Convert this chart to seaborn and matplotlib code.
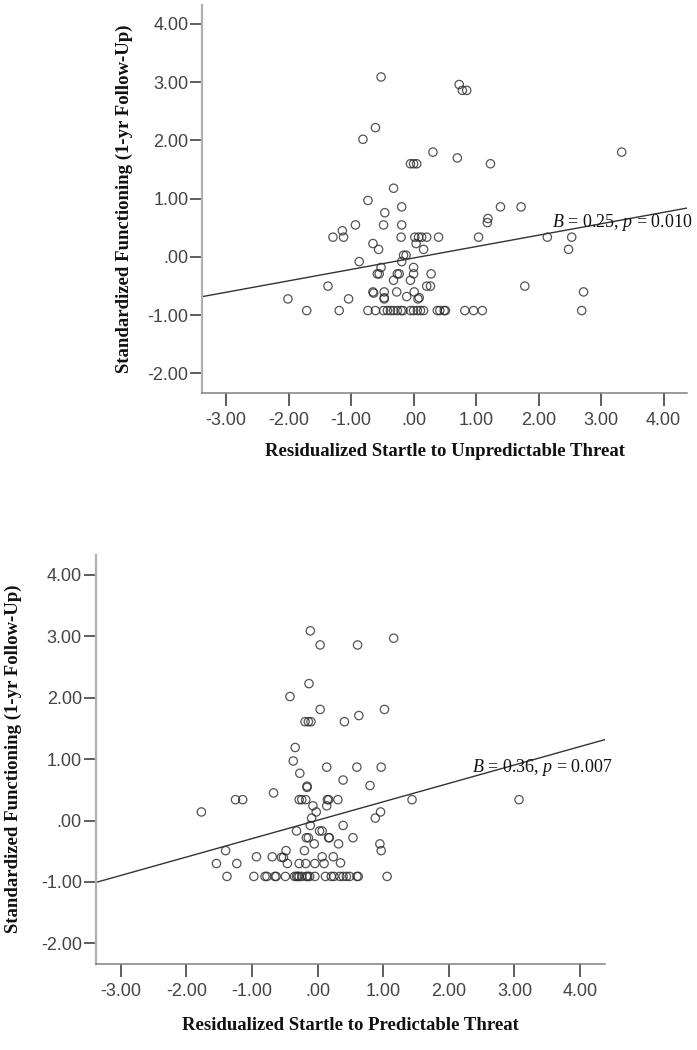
import matplotlib
matplotlib.use('Agg')
import matplotlib.pyplot as plt
import seaborn as sns
from matplotlib.ticker import FuncFormatter

# Top panel: startle to unpredictable threat vs functioning
unpred_x = [
    -0.52, 0.73, 0.78, 0.85, -0.61, -0.81, 0.31, 3.33, 0.70,
    1.23, -0.05, 0.00, 0.05, -0.32, -0.73, -0.19, 1.39, 1.72,
    -0.46, 1.19, 1.18, -0.93, -0.48, -0.19, -1.14,
    -1.29, -1.12, -0.20, 0.02, 0.08, 0.13, 0.21, 0.40, 1.04, 2.14, 2.53,
    -0.65, 0.04, -0.56, 0.16, 2.48, -0.16, -0.12, -0.19, -0.87, -0.52, 0.00,
    -0.58, -0.55, -0.26, -0.23, 0.00, 0.28, -0.32, -0.05,
    -1.37, 0.21, 0.27, 1.78, -0.65, -0.64, -0.47, -0.27, 0.01, 2.72,
    -2.01, -1.04, -0.47, -0.47, -0.11, 0.07, 0.09,
    -1.71, -1.19, -0.73, -0.61, -0.48, -0.42, -0.37, -0.32, -0.26, -0.20, -0.17, -0.05,
    0.00, 0.06, 0.11, 0.16, 0.38, 0.42, 0.49, 0.51, 0.82, 0.96, 1.10, 2.69,
]
unpred_y = [
    3.09, 2.96, 2.86, 2.86, 2.22, 2.02, 1.80, 1.80, 1.70,
    1.60, 1.60, 1.60, 1.60, 1.18, 0.97, 0.86, 0.86, 0.86,
    0.76, 0.66, 0.59, 0.55, 0.55, 0.55, 0.45,
    0.34, 0.34, 0.34, 0.34, 0.34, 0.34, 0.34, 0.34, 0.34, 0.34, 0.34,
    0.23, 0.23, 0.13, 0.13, 0.13, 0.03, 0.03, -0.08, -0.08, -0.18, -0.18,
    -0.29, -0.29, -0.29, -0.29, -0.29, -0.29, -0.40, -0.40,
    -0.50, -0.50, -0.50, -0.50, -0.60, -0.62, -0.60, -0.60, -0.60, -0.60,
    -0.72, -0.72, -0.70, -0.72, -0.68, -0.72, -0.70,
    -0.92, -0.92, -0.92, -0.92, -0.92, -0.92, -0.92, -0.92, -0.92, -0.92, -0.92, -0.92,
    -0.92, -0.92, -0.92, -0.92, -0.92, -0.92, -0.92, -0.92, -0.92, -0.92, -0.92, -0.92,
]
# fit line (intercept, slope)
unpred_fit = (-0.018, 0.196)

# Bottom panel: startle to predictable threat vs functioning
pred_x = [
    -0.11, 0.04, 0.61, 1.16, -0.13, -0.42, 0.04, 1.02, 0.63,
    0.41, -0.19, -0.14, -0.10, -0.34, -0.37, -0.27, 0.14, 0.60,
    0.97, 0.39, 0.80, -0.16, -0.16, -0.67,
    -1.25, -1.14, -0.28, -0.24, -0.18, 0.15, 0.17, 0.31, 1.44, 3.07,
    0.14, -0.07, -0.02, 0.96, -1.77, -0.09, 0.88, -0.11, 0.39,
    -0.32, 0.03, 0.07, -0.17, -0.14, 0.17, 0.18, 0.54,
    -0.05, 0.32, 0.95, 0.97, -1.40, -0.48, -0.20,
    -0.93, -0.69, -0.55, -0.52, 0.07, 0.24,
    -1.54, -1.23, -0.46, -0.28, -0.18, -0.04, 0.10, 0.35,
    -1.38, -0.97, -0.80, -0.77, -0.65, -0.63, -0.49, -0.35, -0.32, -0.30, -0.28, -0.24, -0.17,
    -0.15, -0.12, -0.04, 0.12, 0.21, 0.25, 0.34, 0.39, 0.44, 0.49, 0.60, 0.62, 1.06,
]
pred_y = [
    3.09, 2.86, 2.86, 2.97, 2.23, 2.02, 1.81, 1.81, 1.71,
    1.61, 1.61, 1.61, 1.61, 1.19, 0.97, 0.77, 0.87, 0.87,
    0.87, 0.66, 0.57, 0.56, 0.54, 0.45,
    0.34, 0.34, 0.34, 0.34, 0.34, 0.34, 0.34, 0.34, 0.34, 0.34,
    0.24, 0.24, 0.14, 0.14, 0.14, 0.04, 0.04, -0.08, -0.08,
    -0.17, -0.17, -0.17, -0.28, -0.28, -0.28, -0.28, -0.28,
    -0.38, -0.38, -0.38, -0.49, -0.49, -0.49, -0.49,
    -0.59, -0.59, -0.60, -0.60, -0.59, -0.59,
    -0.70, -0.70, -0.70, -0.70, -0.70, -0.70, -0.70, -0.69,
    -0.91, -0.91, -0.91, -0.91, -0.91, -0.91, -0.91, -0.91, -0.91, -0.91, -0.91, -0.91, -0.91,
    -0.91, -0.91, -0.91, -0.91, -0.91, -0.91, -0.91, -0.91, -0.91, -0.91, -0.91, -0.91, -0.91,
]
pred_fit = (0.005, 0.300)

x_ticks = [-3, -2, -1, 0, 1, 2, 3, 4]
y_ticks = [-2, -1, 0, 1, 2, 3, 4]
x_limits = (-3.38, 4.38)
y_limits = (-2.33, 4.33)
y_label = 'Standardized Functioning (1-yr Follow-Up)'
top_xlabel = 'Residualized Startle to Unpredictable Threat'
bot_xlabel = 'Residualized Startle to Predictable Threat'
top_note = r'$B$ = 0.25, $p$ = 0.010'
bot_note = r'$B$ = 0.36, $p$ = 0.007'

sns.set_style('ticks')
plt.rcParams['font.family'] = ['Liberation Sans', 'DejaVu Sans']
plt.rcParams['axes.unicode_minus'] = False
plt.rcParams['mathtext.fontset'] = 'custom'
plt.rcParams['mathtext.rm'] = 'Liberation Serif'
plt.rcParams['mathtext.it'] = 'Liberation Serif:italic'


def fmt(v, pos):
    s = f'{v:.2f}'
    if s in ('0.00', '-0.00'):
        return '.00'
    return s


def draw_panel(ax, x, y, fit, xlabel, note, note_xy, ylab_x):
    sns.regplot(x=x, y=y, ax=ax, fit_reg=False, color='#222222',
                scatter_kws=dict(s=36, facecolors='none', edgecolors='#2a2a2a', linewidths=0.9))
    # regression line across the full x range
    xs = list(x_limits)
    ys = [fit[0] + fit[1] * v for v in xs]
    sns.lineplot(x=xs, y=ys, ax=ax, color='#333333', lw=1.0)
    ax.set_xlim(*x_limits)
    ax.set_ylim(*y_limits)
    ax.set_xticks(x_ticks)
    ax.set_yticks(y_ticks)
    ax.xaxis.set_major_formatter(FuncFormatter(fmt))
    ax.yaxis.set_major_formatter(FuncFormatter(fmt))
    ax.tick_params(axis='both', length=9, width=1.1, color='#333333',
                   labelcolor='#444444', labelsize=13, bottom=True, left=True, direction='out')
    ax.tick_params(axis='x', pad=5)
    ax.tick_params(axis='y', pad=1)
    sns.despine(ax=ax)
    ax.spines['left'].set_color('#b0b0b0')
    ax.spines['left'].set_linewidth(1.6)
    ax.spines['bottom'].set_color('#808080')
    ax.spines['bottom'].set_linewidth(1.1)
    ax.set_xlabel(xlabel, fontsize=13.5, fontweight='bold', family='Liberation Serif', color='#111111')
    ax.set_ylabel(y_label, fontsize=13.5, fontweight='bold', family='Liberation Serif', color='#111111')
    ax.xaxis.set_label_coords(0.5, -0.13)
    ax.yaxis.set_label_coords(ylab_x, 0.5)
    ax.text(note_xy[0], note_xy[1], note, fontsize=13, family='Liberation Serif',
            color='#111111', ha='left', va='center', clip_on=False)


fig = plt.figure(figsize=(6.97, 10.5), dpi=100)
ax_top = fig.add_axes([0.2903, 0.6260, 0.6958, 0.3695])
ax_bot = fig.add_axes([0.1373, 0.0823, 0.7307, 0.3894])

draw_panel(ax_top, unpred_x, unpred_y, unpred_fit, top_xlabel, top_note, (2.22, 0.59), -0.142)
draw_panel(ax_bot, pred_x, pred_y, pred_fit, bot_xlabel, bot_note, (2.36, 0.86), -0.145)

fig.savefig('out.png', dpi=100)
